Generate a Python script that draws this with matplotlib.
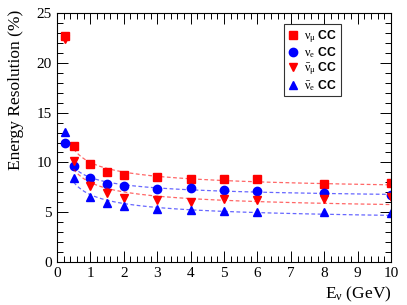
import numpy as np
import matplotlib
matplotlib.use("Agg")
import matplotlib.pyplot as plt
from matplotlib.ticker import MultipleLocator

# valors llegits de la figura
energia = [0.25, 0.5, 1, 1.5, 2, 3, 4, 5, 6, 8, 10]
numu_cc = [22.7, 11.7, 9.87, 9.04, 8.7, 8.53, 8.37, 8.3, 8.37, 7.8, 7.93]
nue_cc = [11.95, 9.67, 8.47, 7.8, 7.6, 7.33, 7.46, 7.2, 7.1, 6.93, 6.75]
numubar_cc = [22.4, 10.1, 7.6, 6.96, 6.45, 6.2, 6.0, 6.3, 6.2, 6.35, 6.5]
nuebar_cc = [13.05, 8.4, 6.55, 5.9, 5.65, 5.32, 5.2, 5.1, 5.05, 4.98, 4.95]

plt.rcParams['font.family'] = 'Liberation Serif'
plt.rcParams['mathtext.fontset'] = 'custom'
plt.rcParams['mathtext.rm'] = 'Liberation Serif'
plt.rcParams['mathtext.it'] = 'Liberation Serif:italic'

fig = plt.figure(figsize=(4.07, 3.05), dpi=100)
ax = fig.add_axes([0.140, 0.141, 0.821, 0.816])


def ajust(x, y):
    # ajust a + b/sqrt(E) a partir de 0.5 GeV
    x = np.array(x[1:])
    y = np.array(y[1:])
    A = np.vstack([np.ones_like(x), 1 / np.sqrt(x)]).T
    coef = np.linalg.lstsq(A, y, rcond=None)[0]
    xx = np.linspace(0.5, 10, 200)
    return xx, coef[0] + coef[1] / np.sqrt(xx)


series = [
    (numu_cc, 's', 'red', r'$\mathrm{\nu}_\mathrm{\mu}$ CC', 5.5),
    (nue_cc, 'o', 'blue', r'$\mathrm{\nu}_\mathrm{e}$ CC', 6),
    (numubar_cc, 'v', 'red', r'$\bar{\mathrm{\nu}}_\mathrm{\mu}$ CC', 6),
    (nuebar_cc, '^', 'blue', r'$\bar{\mathrm{\nu}}_\mathrm{e}$ CC', 6),
]

for dades, marker, color, label, ms in series:
    xx, yy = ajust(energia, dades)
    ax.plot(xx, yy, ls=(0, (3, 2)), color=color, alpha=0.6, lw=0.9)
    ax.plot(energia, dades, ls='none', marker=marker, color=color, ms=ms,
            label=label)

ax.set_xlim(0, 10)
ax.set_ylim(0, 25)
ax.xaxis.set_major_locator(MultipleLocator(1))
ax.xaxis.set_minor_locator(MultipleLocator(0.2))
ax.yaxis.set_major_locator(MultipleLocator(5))
ax.yaxis.set_minor_locator(MultipleLocator(1))
ax.tick_params(which='both', direction='in', top=True, right=True,
               labelsize=11, width=0.7)
ax.tick_params(which='major', length=8)
ax.tick_params(which='minor', length=4)
for s in ax.spines.values():
    s.set_linewidth(0.8)

ax.set_ylabel('Energy Resolution (%)', fontsize=12.5)
ax.yaxis.set_label_coords(-0.1, 0.69)
ax.set_xlabel(r'E$_\mathrm{\nu}$ (GeV)', fontsize=12.5, ha='right')
ax.xaxis.set_label_coords(1.0, -0.09)

leg = ax.legend(loc='upper left', bbox_to_anchor=(0.68, 0.955), frameon=True,
                fancybox=False, edgecolor='black', handletextpad=0.4,
                borderpad=0.3, labelspacing=0.05, handlelength=0.9,
                borderaxespad=0.0,
                prop={'family': 'Liberation Sans', 'weight': 'bold', 'size': 8.8})
leg.get_frame().set_linewidth(0.8)

fig.savefig('out.png', dpi=100)
